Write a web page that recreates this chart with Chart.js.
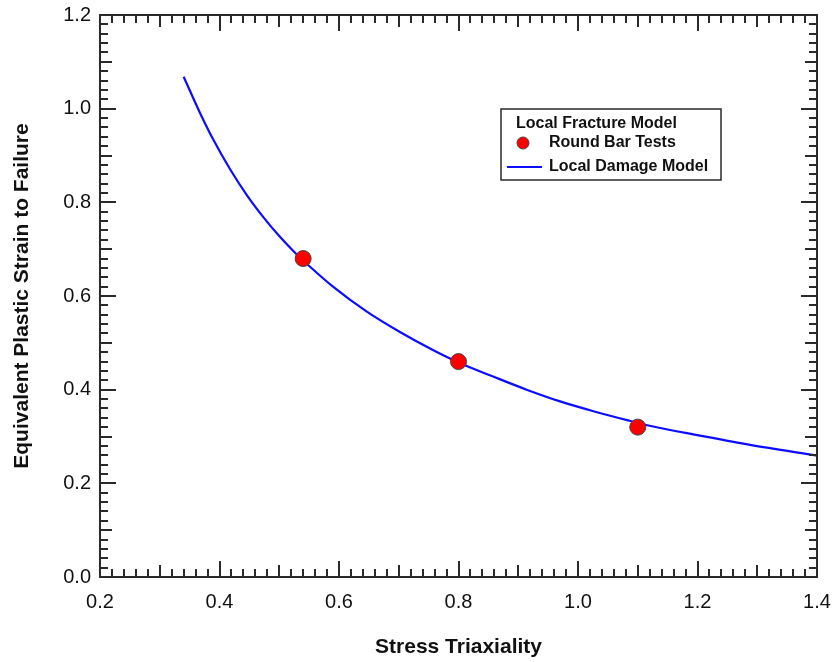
<!DOCTYPE html>
<html>
<head>
<meta charset="utf-8">
<title>Equivalent Plastic Strain to Failure</title>
<script src="https://cdn.jsdelivr.net/npm/chart.js@4.4.1/dist/chart.umd.min.js"></script>
<style>
    html, body { margin: 0; padding: 0; background: #fff; }
    #wrap { width: 835px; height: 662px; }
</style>
</head>
<body>
<div id="wrap"><canvas id="strainChart" width="835" height="662"></canvas></div>
<script>
// Round bar test results
const testTriaxiality = [0.54, 0.80, 1.10];
const testStrain = [0.68, 0.46, 0.32];

// Local damage model curve
const modelTriaxiality = [0.34, 0.367, 0.39, 0.418, 0.446, 0.473, 0.50, 0.526, 0.552, 0.59,
    0.646, 0.702, 0.758, 0.80, 0.858, 0.914, 0.97, 1.026, 1.082, 1.12, 1.204, 1.288, 1.40];
const modelStrain = [1.068, 0.992, 0.933, 0.870, 0.815, 0.769, 0.728, 0.693, 0.662, 0.620,
    0.567, 0.523, 0.484, 0.458, 0.428, 0.400, 0.375, 0.354, 0.335, 0.323, 0.302, 0.282, 0.259];

const xTicks = [0.2, 0.4, 0.6, 0.8, 1.0, 1.2, 1.4];
const yTicks = [0.0, 0.2, 0.4, 0.6, 0.8, 1.0, 1.2];

const legendTitle = 'Local Fracture Model';
const fontFamily = "'Liberation Sans', Arial, sans-serif";
const frameColor = '#2a2a2a';
const textColor = '#111';

const toPoints = (xs, ys) => xs.map((x, i) => ({ x, y: ys[i] }));

// keep the plot box fixed: no extra room for overhanging tick labels
const fixScaleBox = (scale, size) => {
    if (scale.isHorizontal()) {
        scale.height = size;
    } else {
        scale.width = size;
    }
    scale.paddingTop = 0;
    scale.paddingBottom = 0;
    scale.paddingLeft = 0;
    scale.paddingRight = 0;
};

// frame with inward ticks on all four sides
const framePlugin = {
    id: 'frame',
    afterDatasetsDraw(chart) {
        const { ctx, chartArea: a, scales: { x, y } } = chart;
        ctx.save();
        ctx.strokeStyle = frameColor;
        ctx.lineWidth = 2;
        ctx.strokeRect(a.left, a.top, a.right - a.left, a.bottom - a.top);

        const tickLen = (i) => (i % 10 === 0 ? 16 : i % 5 === 0 ? 12 : 8);
        ctx.beginPath();
        for (let i = 1; i < 60; i++) {
            const px = Math.round(x.getPixelForValue(x.min + (i * (x.max - x.min)) / 60));
            const py = Math.round(y.getPixelForValue(y.min + (i * (y.max - y.min)) / 60));
            const len = tickLen(i);
            ctx.moveTo(px, a.bottom);
            ctx.lineTo(px, a.bottom - len);
            ctx.moveTo(px, a.top);
            ctx.lineTo(px, a.top + len);
            ctx.moveTo(a.left, py);
            ctx.lineTo(a.left + len, py);
            ctx.moveTo(a.right, py);
            ctx.lineTo(a.right - len, py);
        }
        ctx.stroke();
        ctx.restore();
    },
};

// boxed legend inside the plot
const legendPlugin = {
    id: 'boxLegend',
    afterDraw(chart) {
        const { ctx, chartArea: a } = chart;
        const [tests, model] = chart.data.datasets;
        const left = a.left + 401;
        const top = a.top + 94;
        const w = 220;
        const h = 71;

        ctx.save();
        ctx.fillStyle = '#fff';
        ctx.fillRect(left, top, w, h);
        ctx.strokeStyle = frameColor;
        ctx.lineWidth = 1.5;
        ctx.strokeRect(left, top, w, h);

        ctx.fillStyle = textColor;
        ctx.font = `bold 16px ${fontFamily}`;
        ctx.textBaseline = 'middle';
        ctx.textAlign = 'left';
        ctx.fillText(legendTitle, left + 15, top + 15);
        ctx.fillText(tests.label, left + 48, top + 34);
        ctx.fillText(model.label, left + 48, top + 58);

        ctx.beginPath();
        ctx.arc(left + 22, top + 34, 6, 0, Math.PI * 2);
        ctx.fillStyle = tests.backgroundColor;
        ctx.fill();
        ctx.lineWidth = 1;
        ctx.strokeStyle = tests.borderColor;
        ctx.stroke();

        ctx.beginPath();
        ctx.moveTo(left + 6, top + 58);
        ctx.lineTo(left + 41, top + 58);
        ctx.strokeStyle = model.borderColor;
        ctx.lineWidth = 2.2;
        ctx.stroke();
        ctx.restore();
    },
};

new Chart(document.getElementById('strainChart'), {
    type: 'scatter',
    data: {
        datasets: [
            {
                label: 'Round Bar Tests',
                data: toPoints(testTriaxiality, testStrain),
                backgroundColor: '#ff0000',
                borderColor: '#444',
                borderWidth: 1,
                pointRadius: 8,
                pointHoverRadius: 8,
            },
            {
                label: 'Local Damage Model',
                data: toPoints(modelTriaxiality, modelStrain),
                showLine: true,
                borderColor: '#0c0cff',
                backgroundColor: '#0c0cff',
                borderWidth: 2.2,
                pointRadius: 0,
                cubicInterpolationMode: 'monotone',
            },
        ],
    },
    options: {
        responsive: false,
        animation: false,
        layout: { padding: { top: 15, right: 18, left: 0, bottom: 0 } },
        plugins: {
            legend: { display: false },
            tooltip: { enabled: false },
        },
        scales: {
            x: {
                type: 'linear',
                min: xTicks[0],
                max: xTicks[xTicks.length - 1],
                afterBuildTicks: (scale) => { scale.ticks = xTicks.map((value) => ({ value })); },
                afterFit: (scale) => fixScaleBox(scale, 85),
                grid: { display: false, drawTicks: false },
                border: { display: false },
                ticks: {
                    padding: 13,
                    color: textColor,
                    font: { family: fontFamily, size: 20 },
                    callback: (value) => Number(value).toFixed(1),
                },
                title: {
                    display: true,
                    text: 'Stress Triaxiality',
                    color: textColor,
                    font: { family: fontFamily, size: 21, weight: 'bold' },
                    padding: { top: 0, bottom: 2 },
                },
            },
            y: {
                type: 'linear',
                min: yTicks[0],
                max: yTicks[yTicks.length - 1],
                afterBuildTicks: (scale) => { scale.ticks = yTicks.map((value) => ({ value })); },
                afterFit: (scale) => fixScaleBox(scale, 100),
                grid: { display: false, drawTicks: false },
                border: { display: false },
                ticks: {
                    padding: 9,
                    color: textColor,
                    font: { family: fontFamily, size: 20 },
                    callback: (value) => Number(value).toFixed(1),
                },
                title: {
                    display: true,
                    text: 'Equivalent Plastic Strain to Failure',
                    color: textColor,
                    font: { family: fontFamily, size: 21, weight: 'bold' },
                    padding: { top: 10, bottom: 0 },
                },
            },
        },
    },
    plugins: [framePlugin, legendPlugin],
});
</script>
</body>
</html>
